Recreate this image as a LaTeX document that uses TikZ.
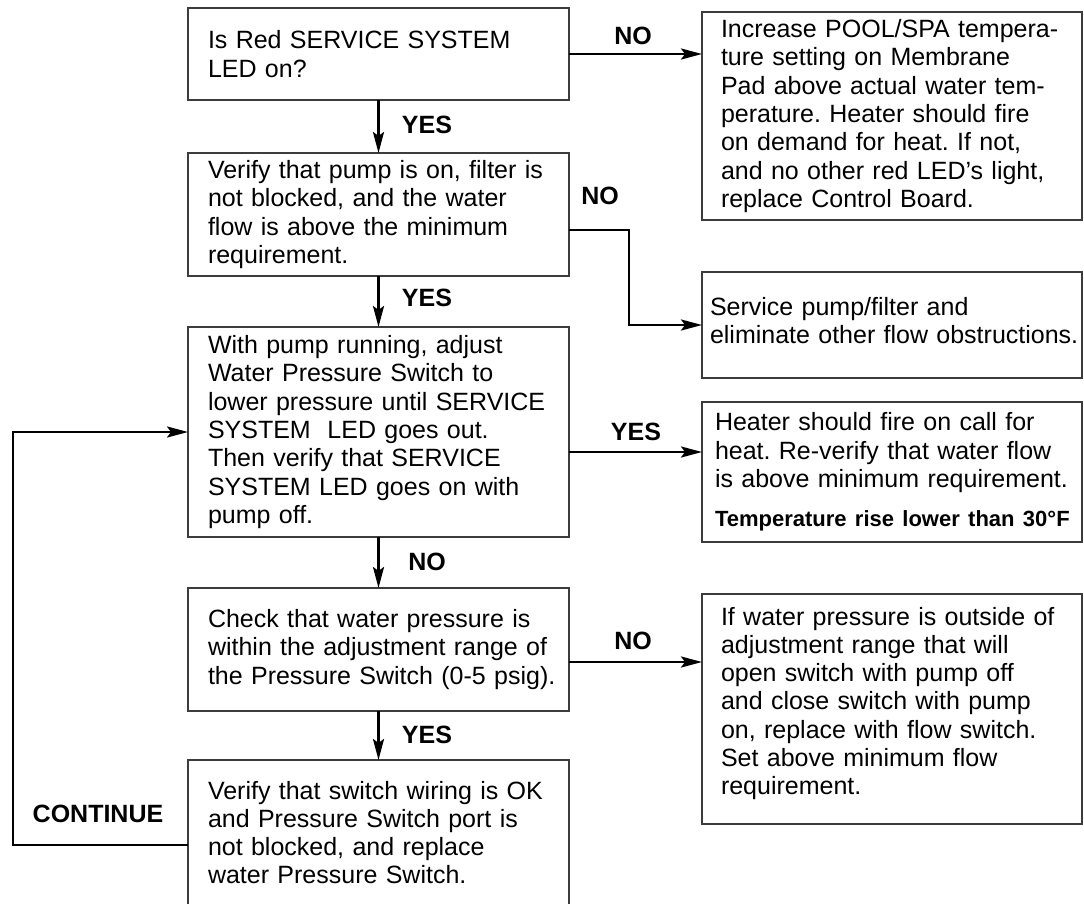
\documentclass[tikz,border=0pt]{standalone}
\usepackage{fontspec}
\setmainfont{Liberation Sans}
\usetikzlibrary{arrows.meta,calc}
\definecolor{boxgray}{RGB}{60,60,60}
\newcommand{\bodysize}{\fontsize{25pt}{28.3pt}\selectfont\frenchspacing}
\newcommand{\tagsize}{\fontsize{25pt}{28pt}\selectfont\bfseries}

\begin{document}
\begin{tikzpicture}[x=1pt, y=-1pt,
    stepbox/.style={draw=boxgray, line width=1.4pt, anchor=north west, align=left,
        inner ysep=0pt, outer sep=0pt, font=\bodysize},
    flow/.style={line width=2.6pt, -{Stealth[length=21pt, width=11pt, inset=4pt]}},
    tag/.style={font=\tagsize, inner sep=0pt}]
    \clip (0,0) rectangle (1084,903);
    \fill[white] (0,0) rectangle (1084,903);

    % Left column
    \node[stepbox, text width=341pt, inner xsep=20pt, minimum height=92pt] (qled) at (188,8)
        {Is Red SERVICE SYSTEM\\LED on?};
    \node[stepbox, text width=341pt, inner xsep=20pt, minimum height=123pt] (qflow) at (188,153)
        {Verify that pump is on, filter is\\not blocked, and the water\\flow is above the minimum\\requirement.};
    \node[stepbox, text width=341pt, inner xsep=20pt, minimum height=210pt] (qadjust) at (188,327)
        {With pump running, adjust\\Water Pressure Switch to\\lower pressure until SERVICE\\SYSTEM\ \ LED goes out.\\Then verify that SERVICE\\SYSTEM LED goes on with\\pump off.};
    \node[stepbox, text width=341pt, inner xsep=20pt, minimum height=123pt] (qrange) at (188,588)
        {Check that water pressure is\\within the adjustment range of\\\mbox{the Pressure Switch (0-5 psig).}};
    \node[stepbox, text width=341pt, inner xsep=20pt, minimum height=145pt] (replace) at (188,760)
        {Verify that switch wiring is OK\\and Pressure Switch port is\\not blocked, and replace\\water Pressure Switch.};

    % Right column
    \node[stepbox, text width=342pt, inner xsep=19pt, minimum height=208pt] (ledfix) at (702,12)
        {Increase POOL/SPA tempera-\\ture setting on Membrane\\Pad above actual water tem-\\perature. Heater should fire\\on demand for heat. If not,\\and no other red LED’s light,\\replace Control Board.};
    \node[stepbox, text width=364pt, inner xsep=8pt, minimum height=106pt, text depth=38pt] (pumpfix) at (702,272)
        {Service pump/filter and\\\mbox{eliminate other flow obstructions.}};
    \node[stepbox, text width=354pt, inner xsep=13pt, minimum height=140pt] (heatok) at (702,402)
        {Heater should fire on call for\\heat. Re-verify that water flow\\\mbox{is above minimum requirement.}\\[10.7pt]\mbox{\fontsize{22pt}{26pt}\selectfont\bfseries Temperature rise lower than 30°F}};
    \node[stepbox, text width=342pt, inner xsep=19pt, minimum height=230pt, text depth=186pt] (flowswitch) at (702,594)
        {If water pressure is outside of\\adjustment range that will\\open switch with pump off\\and close switch with pump\\on, replace with flow switch.\\Set above minimum flow\\requirement.};

    % Connectors
    \draw[flow] (qled.east) -- (qled.east -| ledfix.west);
    \draw[flow] (qled.south) -- (qflow.north);
    \draw[flow] ($(qflow.north east)+(0,77)$) -- ++(60,0) |- (pumpfix.west);
    \draw[flow] (qflow.south) -- (qadjust.north);
    \draw[flow] ($(qadjust.north east)+(0,125)$) coordinate (dg) -- (dg -| heatok.west);
    \draw[flow] (qadjust.south) -- (qrange.north);
    \draw[flow] ($(qrange.north east)+(0,74)$) coordinate (fi) -- (fi -| flowswitch.west);
    \draw[flow] (qrange.south) -- (replace.north);
    \draw[flow] ($(replace.north west)+(0,85)$) -- ++(-175,0) |- (qadjust.west);

    % Labels
    \node[tag] (noled) at (633,36) {NO};
    \node[tag] (yesled) at (427,125) {YES};
    \node[tag] (noflow) at (600,196) {NO};
    \node[tag] (yesflow) at (427,298) {YES};
    \node[tag] (yesadjust) at (636,432) {YES};
    \node[tag] (noadjust) at (427,562) {NO};
    \node[tag] (norange) at (633,641) {NO};
    \node[tag] (yesrange) at (427,735) {YES};
    \node[tag] (cont) at (98,814) {CONTINUE};
\end{tikzpicture}
\end{document}
